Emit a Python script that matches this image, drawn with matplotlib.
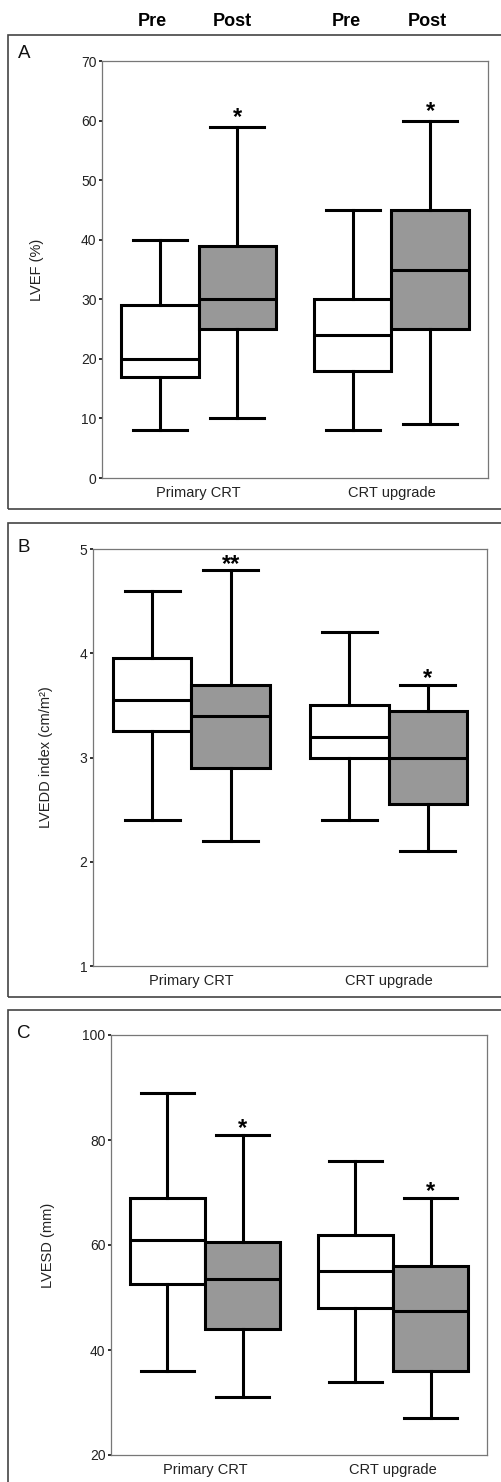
import matplotlib
matplotlib.use('Agg')
import matplotlib.pyplot as plt
from matplotlib.patches import Rectangle

plt.rcParams['font.family'] = ['Liberation Sans', 'DejaVu Sans']

# ---------------- data ----------------
groups = ['Primary CRT', 'CRT upgrade']
conditions = ['Pre', 'Post', 'Pre', 'Post']
# order of boxes: Primary Pre, Primary Post, Upgrade Pre, Upgrade Post

lvef_low = [8, 10, 8, 9]
lvef_q1 = [17, 25, 18, 25]
lvef_med = [20, 30, 24, 35]
lvef_q3 = [29, 39, 30, 45]
lvef_high = [40, 59, 45, 60]
lvef_stars = ['', '*', '', '*']

lvedd_low = [2.4, 2.2, 2.4, 2.1]
lvedd_q1 = [3.25, 2.9, 3.0, 2.55]
lvedd_med = [3.55, 3.4, 3.2, 3.0]
lvedd_q3 = [3.95, 3.7, 3.5, 3.45]
lvedd_high = [4.6, 4.8, 4.2, 3.7]
lvedd_stars = ['', '**', '', '*']

lvesd_low = [36, 31, 34, 27]
lvesd_q1 = [52.5, 44, 48, 36]
lvesd_med = [61, 53.5, 55, 47.5]
lvesd_q3 = [69, 60.5, 62, 56]
lvesd_high = [89, 81, 76, 69]
lvesd_stars = ['', '*', '', '*']

lvef_ticks = [0, 10, 20, 30, 40, 50, 60, 70]
lvedd_ticks = [1, 2, 3, 4, 5]
lvesd_ticks = [20, 40, 60, 80, 100]

# ---------------- layout ----------------
W, H = 502, 1482
fig = plt.figure(figsize=(W / 100, H / 100), dpi=100)
fig.patch.set_facecolor('white')

positions = [1, 2, 3.5, 4.5]
group_pos = [1.5, 4.0]
face = ['white', '#989898', 'white', '#989898']


def px_axes(l, t, r, b):
    return fig.add_axes([l / W, 1 - b / H, (r - l) / W, (b - t) / H])


def frame(t, b):
    rect = Rectangle((8 / W, 1 - b / H), (520 - 8) / W, (b - t) / H,
                     transform=fig.transFigure, fill=False,
                     edgecolor='#444444', linewidth=1.2, clip_on=False)
    fig.patches.append(rect)


def panel(ax, low, q1, med, q3, high, stars, ticks, ylim, ylabel, label_x,
          star_off):
    stats = []
    for i in range(4):
        stats.append(dict(whislo=low[i], q1=q1[i], med=med[i], q3=q3[i],
                          whishi=high[i], fliers=[]))
    lw = 2.2
    bp = ax.bxp(stats, positions=positions, widths=1.0, capwidths=0.7,
                patch_artist=True, showfliers=False,
                boxprops=dict(edgecolor='black', linewidth=lw),
                whiskerprops=dict(color='black', linewidth=lw),
                capprops=dict(color='black', linewidth=lw),
                medianprops=dict(color='black', linewidth=lw))
    for patch, fc in zip(bp['boxes'], face):
        patch.set_facecolor(fc)
    for i, s in enumerate(stars):
        if s:
            ax.annotate(s, (positions[i], high[i]), xytext=(0, star_off),
                        textcoords='offset points', ha='center',
                        va='baseline', fontsize=17, fontweight='bold',
                        color='black')
    ax.set_xlim(0.25, 5.25)
    ax.set_ylim(*ylim)
    ax.set_yticks(ticks)
    ax.set_yticklabels([str(t) for t in ticks])
    ax.set_xticks(group_pos)
    ax.set_xticklabels(groups)
    ax.tick_params(axis='x', length=0, pad=6, labelsize=10.5,
                   labelcolor='#222222')
    ax.tick_params(axis='y', length=2.5, width=1.3, pad=1.5,
                   labelsize=10, labelcolor='#222222', color='#222222')
    for sp in ax.spines.values():
        sp.set_color('#777777')
        sp.set_linewidth(0.9)
    ax.set_ylabel(ylabel, fontsize=10.5, color='#222222')
    ax.yaxis.set_label_coords(label_x, 0.5)


# frames
frame(35, 509)
frame(523, 997)
frame(1010, 1500)

axA = px_axes(102, 61, 488, 478)
panel(axA, lvef_low, lvef_q1, lvef_med, lvef_q3, lvef_high, lvef_stars,
      lvef_ticks, (0, 70), 'LVEF (%)', -0.150, 1.5)

axB = px_axes(93, 549, 487, 966)
panel(axB, lvedd_low, lvedd_q1, lvedd_med, lvedd_q3, lvedd_high, lvedd_stars,
      lvedd_ticks, (1, 5), 'LVEDD index (cm/m²)', -0.102, -0.5)

axC = px_axes(111, 1035, 487, 1455)
panel(axC, lvesd_low, lvesd_q1, lvesd_med, lvesd_q3, lvesd_high, lvesd_stars,
      lvesd_ticks, (20, 100), 'LVESD (mm)', -0.149, -0.5)

# headers
for x, txt in zip([152, 232, 346, 427], conditions):
    fig.text(x / W, 1 - 22 / H, txt, ha='center', va='center',
             fontsize=13, fontweight='bold', color='black')

# panel labels
for y, lab in zip([53, 547, 1033], ['A', 'B', 'C']):
    fig.text(24 / W, 1 - y / H, lab, ha='center', va='center',
             fontsize=13.5, color='#111111')

fig.savefig('out.png', dpi=100)
